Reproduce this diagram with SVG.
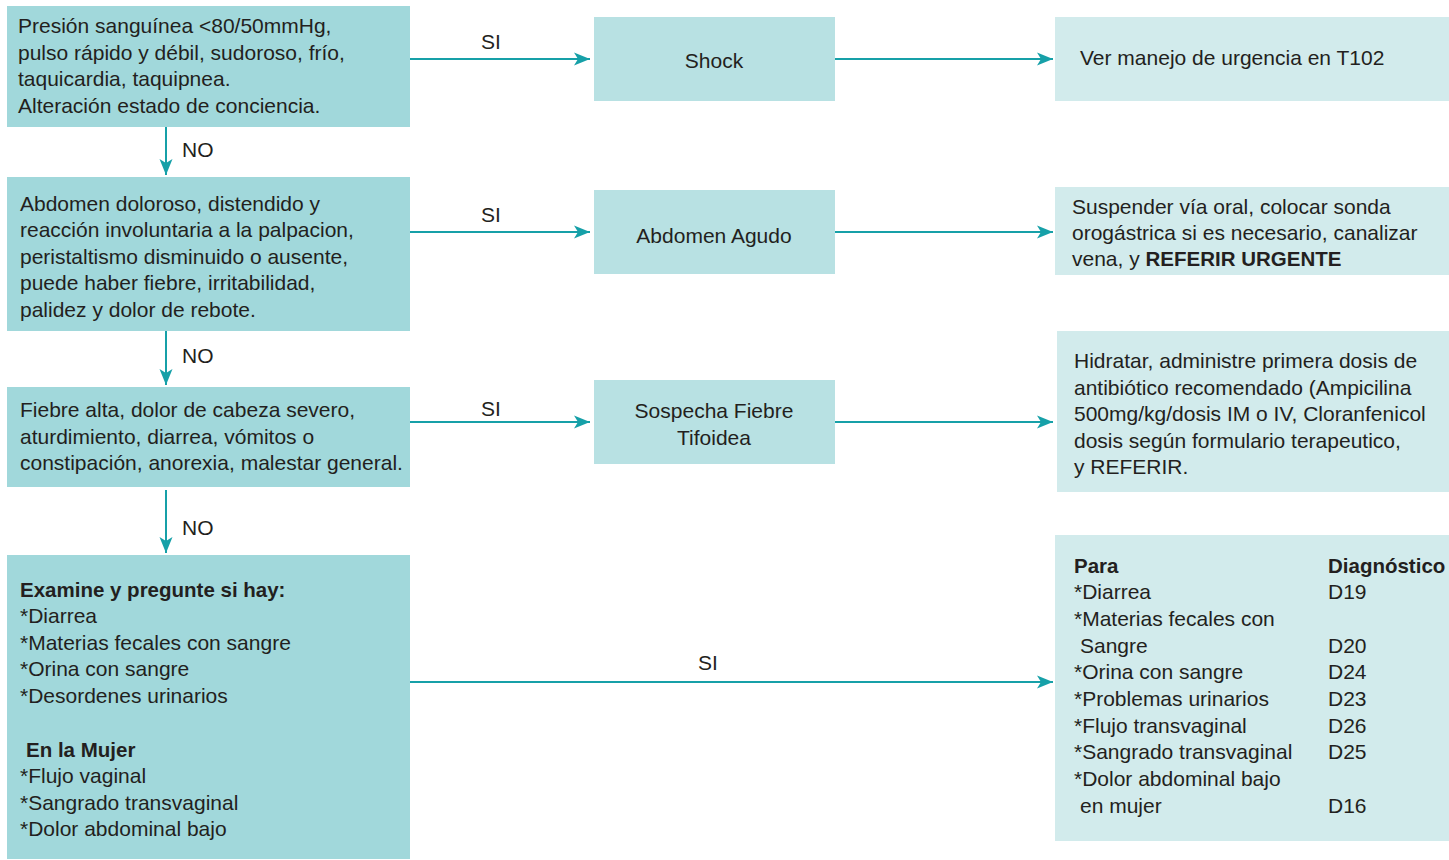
<svg xmlns="http://www.w3.org/2000/svg" width="1449" height="860" viewBox="0 0 1449 860">
<defs>
<marker id="ah" markerUnits="userSpaceOnUse" markerWidth="17" markerHeight="14" refX="16" refY="7" orient="auto">
<path d="M0,0.5 L16,7 L0,13.5 L4,7 Z" fill="#16a0a8"/>
</marker>
</defs>
<style>
text{font-family:"Liberation Sans",Arial,sans-serif;font-size:21px;fill:#231f20}
.b{font-weight:bold;font-size:20.5px}
.c{text-anchor:middle}
.l{fill:#a1d8db}
.m{fill:#b8e1e3}
.r{fill:#d2ebec}
.e{stroke:#16a0a8;stroke-width:2;fill:none;marker-end:url(#ah)}
</style>
<rect width="1449" height="860" fill="#fff"/>
<g id="connectors">
<path class="e" d="M410,59 H590"/>
<path class="e" d="M835,59 H1053"/>
<path class="e" d="M410,232 H590"/>
<path class="e" d="M835,232 H1053"/>
<path class="e" d="M410,422 H590"/>
<path class="e" d="M835,422 H1053"/>
<path class="e" d="M410,682 H1053"/>
<path class="e" d="M166,127 V175"/>
<path class="e" d="M166,331 V385"/>
<path class="e" d="M166,490 V553"/>
<text x="491" y="49" class="c">SI</text>
<text x="491" y="222" class="c">SI</text>
<text x="491" y="416" class="c">SI</text>
<text x="708" y="670" class="c">SI</text>
<text x="182" y="157">NO</text>
<text x="182" y="363">NO</text>
<text x="182" y="535">NO</text>
</g>
<g id="n1">
<rect class="l" x="7" y="6" width="403" height="121"/>
<text x="18" y="33">Presión sanguínea &lt;80/50mmHg,</text>
<text x="18" y="60">pulso rápido y débil, sudoroso, frío,</text>
<text x="18" y="86">taquicardia, taquipnea.</text>
<text x="18" y="113">Alteración estado de conciencia.</text>
</g>
<g id="shock">
<rect class="m" x="594" y="17" width="241" height="84"/>
<text x="714" y="68" class="c">Shock</text>
</g>
<g id="ver">
<rect class="r" x="1055" y="17" width="394" height="84"/>
<text x="1080" y="65">Ver manejo de urgencia en T102</text>
</g>
<g id="n2">
<rect class="l" x="7" y="177" width="403" height="154"/>
<text x="20" y="211">Abdomen doloroso, distendido y</text>
<text x="20" y="237">reacción involuntaria a la palpacion,</text>
<text x="20" y="264">peristaltismo disminuido o ausente,</text>
<text x="20" y="290">puede haber fiebre, irritabilidad,</text>
<text x="20" y="317">palidez y dolor de rebote.</text>
</g>
<g id="abdomen">
<rect class="m" x="594" y="190" width="241" height="84"/>
<text x="714" y="243" class="c">Abdomen Agudo</text>
</g>
<g id="suspender">
<rect class="r" x="1055" y="187" width="394" height="88"/>
<text x="1072" y="214">Suspender vía oral, colocar sonda</text>
<text x="1072" y="240">orogástrica si es necesario, canalizar</text>
<text x="1072" y="266">vena, y <tspan class="b">REFERIR URGENTE</tspan></text>
</g>
<g id="n3">
<rect class="l" x="7" y="387" width="403" height="100"/>
<text x="20" y="417">Fiebre alta, dolor de cabeza severo,</text>
<text x="20" y="444">aturdimiento, diarrea, vómitos o</text>
<text x="20" y="470">constipación, anorexia, malestar general.</text>
</g>
<g id="tifoidea">
<rect class="m" x="594" y="380" width="241" height="84"/>
<text x="714" y="418" class="c">Sospecha Fiebre</text>
<text x="714" y="445" class="c">Tifoidea</text>
</g>
<g id="hidratar">
<rect class="r" x="1057" y="331" width="392" height="161"/>
<text x="1074" y="368">Hidratar, administre primera dosis de</text>
<text x="1074" y="395">antibiótico recomendado (Ampicilina</text>
<text x="1074" y="421">500mg/kg/dosis IM o IV, Cloranfenicol</text>
<text x="1074" y="448">dosis según formulario terapeutico,</text>
<text x="1074" y="474">y REFERIR.</text>
</g>
<g id="n4">
<rect class="l" x="7" y="555" width="403" height="304"/>
<text x="20" y="597" class="b">Examine y pregunte si hay:</text>
<text x="20" y="623">*Diarrea</text>
<text x="20" y="650">*Materias fecales con sangre</text>
<text x="20" y="676">*Orina con sangre</text>
<text x="20" y="703">*Desordenes urinarios</text>
<text x="26" y="757" class="b">En la Mujer</text>
<text x="20" y="783">*Flujo vaginal</text>
<text x="20" y="810">*Sangrado transvaginal</text>
<text x="20" y="836">*Dolor abdominal bajo</text>
</g>
<g id="para">
<rect class="r" x="1055" y="535" width="394" height="306"/>
<text x="1074" y="573" class="b">Para</text>
<text x="1328" y="573" class="b">Diagnóstico</text>
<text x="1074" y="599">*Diarrea</text>
<text x="1328" y="599">D19</text>
<text x="1074" y="626">*Materias fecales con</text>
<text x="1080" y="653">Sangre</text>
<text x="1328" y="653">D20</text>
<text x="1074" y="679">*Orina con sangre</text>
<text x="1328" y="679">D24</text>
<text x="1074" y="706">*Problemas urinarios</text>
<text x="1328" y="706">D23</text>
<text x="1074" y="733">*Flujo transvaginal</text>
<text x="1328" y="733">D26</text>
<text x="1074" y="759">*Sangrado transvaginal</text>
<text x="1328" y="759">D25</text>
<text x="1074" y="786">*Dolor abdominal bajo</text>
<text x="1080" y="813">en mujer</text>
<text x="1328" y="813">D16</text>
</g>
</svg>
